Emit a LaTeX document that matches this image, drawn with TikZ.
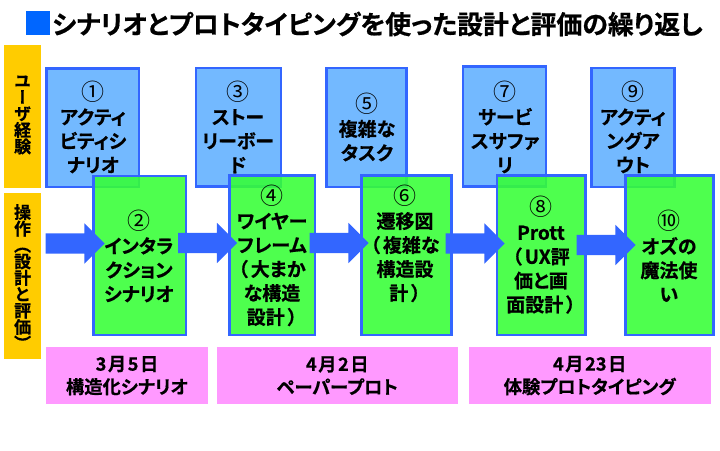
\documentclass[tikz,border=0pt]{standalone}
\usepackage{fontspec}
\usetikzlibrary{shapes.arrows}
\setmainfont[BoldFont={Noto Sans CJK JP Bold},BoldFeatures={FakeBold=0.6},RawFeature=+palt]{Noto Sans CJK JP}
\newfontfamily\vertfont[Vertical=Alternates,BoldFont={Noto Sans CJK JP Bold},BoldFeatures={FakeBold=0.6}]{Noto Sans CJK JP}
\definecolor{uxblue}{RGB}{115,185,255}
\definecolor{edgeblue}{RGB}{51,102,255}
\definecolor{opgreen}{RGB}{53,255,53}
\definecolor{sideorange}{RGB}{255,204,0}
\definecolor{datepink}{RGB}{255,153,255}
\definecolor{titleblue}{RGB}{0,102,255}
\tikzset{
	uxbox/.style = {draw=edgeblue, line width=2.5pt, fill=uxblue, inner sep=0pt},
	opbox/.style = {draw=edgeblue, line width=2.5pt, fill=opgreen, fill opacity=.88, inner sep=0pt},
	sidebox/.style = {fill=sideorange, inner sep=0pt},
	datebox/.style = {fill=datepink, inner sep=0pt, align=center, font=\fontsize{18.3}{23}\selectfont\bfseries},
	flow/.style = {single arrow, fill=edgeblue, inner xsep=0pt, inner ysep=10pt, single arrow head extend=10pt, single arrow tip angle=90, minimum width=40pt, minimum height=59pt},
	boxtext/.style = {align=center, inner sep=0pt, font=\fontsize{19}{24}\selectfont\bfseries},
	sidetext/.style = {align=center, inner sep=0pt, font=\fontsize{17}{16.4}\selectfont\vertfont\bfseries},
}
\newcommand{\num}[1]{{\mdseries\fontsize{23}{24}\selectfont #1}}
\newcommand{\gap}{\kern1.5pt}
\begin{document}
\begin{tikzpicture}[x=1pt, y=-1pt]
	\useasboundingbox (0,0) rectangle (720,450);
	
	\node[fill=titleblue, minimum width=24pt, minimum height=23.7pt, inner sep=0pt] (mark) at (38,23.2) {};
	\node[right, inner sep=0pt, font=\fontsize{25.9}{30}\selectfont\bfseries] (title) at (52,24) {シナリオとプロトタイピングを使った設計と評価の繰り返し};
	
	\node[sidebox, minimum width=36.7pt, minimum height=142.7pt] (ux) at (22.6,116.3) {};
	\node[sidebox, minimum width=36.7pt, minimum height=166.3pt] (op) at (22.6,276.2) {};
	\node[sidetext] (uxtext) at (22.6,115) {ユ\\ー\\ザ\\経\\験};
	\node[sidetext] (optext) at (22.6,277) {操\\作\\（\\設\\計\\と\\評\\価\\）};
	
	\node[uxbox, minimum width=92.5pt, minimum height=118.5pt] (u1) at (92.5,127.5) {};
	\node[uxbox, minimum width=85pt, minimum height=118.8pt] (u3) at (238.5,127.3) {};
	\node[uxbox, minimum width=80pt, minimum height=119pt] (u5) at (366.5,127.3) {};
	\node[uxbox, minimum width=83pt, minimum height=120pt] (u7) at (504.5,126.7) {};
	\node[uxbox, minimum width=83pt, minimum height=119pt] (u9) at (632.8,127.3) {};
	
	\node[opbox, minimum width=92.5pt, minimum height=159pt] (g2) at (139.5,255.3) {};
	\node[opbox, minimum width=85.5pt, minimum height=159.5pt] (g4) at (272.3,255) {};
	\node[opbox, minimum width=90pt, minimum height=159.5pt] (g6) at (406.3,255) {};
	\node[opbox, minimum width=88.5pt, minimum height=159.5pt] (g8) at (541.2,255) {};
	\node[opbox, minimum width=88pt, minimum height=159.5pt] (g10) at (669.7,255) {};
	
	\node[flow] (a2) at (70,243.5) {};
	\node[flow] (a4) at (202.5,243) {};
	\node[flow] (a6) at (334,243) {};
	\node[flow] (a8) at (470,243.5) {};
	\node[flow] (a10) at (601,245) {};
	
	\node[boxtext] (t1) at (93,127) {\num{①}\\アクティ\\ビティシ\\ナリオ};
	\node[boxtext] (t3) at (238,127) {\num{③}\\ストー\\リーボー\\ド};
	\node[boxtext] (t5) at (367,127) {\num{⑤}\\複雑な\\タスク};
	\node[boxtext] (t7) at (505,127) {\num{⑦}\\サービ\\スサファ\\リ};
	\node[boxtext] (t9) at (633,127) {\num{⑨}\\アクティ\\ングア\\ウト};
	
	\node[boxtext] (t2) at (139,256) {\num{②}\\インタラ\\クション\\シナリオ};
	\node[boxtext] (t4) at (272,255.5) {\num{④}\\ワイヤー\\フレーム\\（\gap\gap 大まか\\な構造\\設計\gap\gap ）};
	\node[boxtext] (t6) at (405,243.5) {\num{⑥}\\遷移図\\（\gap\gap 複雑な\\構造設\\計\gap\gap ）};
	\node[boxtext] (t8) at (541,255) {\num{⑧}\\Prott\\（\gap\gap UX評\\価と画\\面設計\gap\gap ）};
	\node[boxtext] (t10) at (669,256) {\num{⑩}\\オズの\\魔法使\\い};
	
	\node[datebox, minimum width=162pt, minimum height=56.7pt] (d1) at (127,375.6) {3\gap 月\gap 5\gap 日\\構造化シナリオ};
	\node[datebox, minimum width=240.7pt, minimum height=56.7pt] (d2) at (337.3,375.6) {4\gap 月\gap 2\gap 日\\ペーパープロト};
	\node[datebox, minimum width=242pt, minimum height=56.7pt] (d3) at (589.7,375.6) {4\gap 月\gap 23\gap 日\\体験プロトタイピング};
\end{tikzpicture}
\end{document}
